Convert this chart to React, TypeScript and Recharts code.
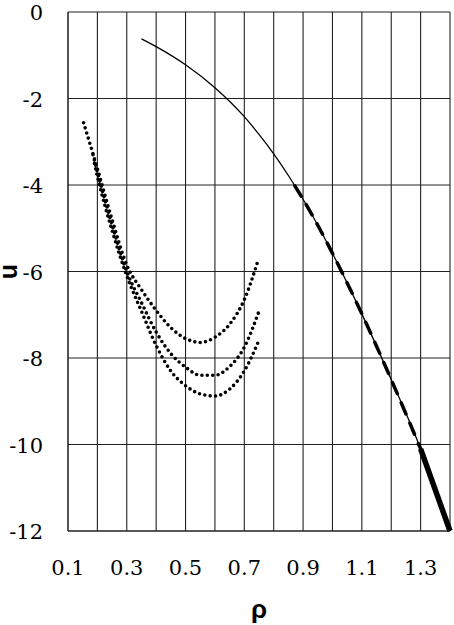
import React from 'react';
import {
  ComposedChart,
  Line,
  XAxis,
  YAxis,
  CartesianGrid,
} from 'recharts';

// ρ grid / tick positions
const rhoTicks = [0.1, 0.2, 0.3, 0.4, 0.5, 0.6, 0.7, 0.8, 0.9, 1.0, 1.1, 1.2, 1.3, 1.4];
const rhoLabels = ['0.1', '', '0.3', '', '0.5', '', '0.7', '', '0.9', '', '1.1', '', '1.3', ''];
const uTicks = [0, -2, -4, -6, -8, -10, -12];

// thin solid curve
const solidCurve = [
  { x: 0.35, u: -0.62 },
  { x: 0.4, u: -0.8 },
  { x: 0.5, u: -1.22 },
  { x: 0.6, u: -1.75 },
  { x: 0.7, u: -2.42 },
  { x: 0.75, u: -2.83 },
  { x: 0.8, u: -3.28 },
  { x: 0.85, u: -3.78 },
  { x: 0.9, u: -4.33 },
  { x: 0.95, u: -4.93 },
  { x: 1.0, u: -5.58 },
  { x: 1.1, u: -6.98 },
  { x: 1.2, u: -8.5 },
  { x: 1.3, u: -10.1 },
  { x: 1.4, u: -12.0 },
];

// thick dashed part lying on the solid curve
const dashedCurve = [
  { x: 0.872, u: -4.02 },
  { x: 0.9, u: -4.33 },
  { x: 0.95, u: -4.93 },
  { x: 1.0, u: -5.58 },
  { x: 1.1, u: -6.98 },
  { x: 1.2, u: -8.5 },
  { x: 1.3, u: -10.1 },
];

// heavy solid end segment
const heavyCurve = [
  { x: 1.3, u: -10.1 },
  { x: 1.4, u: -12.0 },
];

// three dotted curves
const dottedA = [
  { x: 0.153, u: -2.56 },
  { x: 0.2, u: -3.62 },
  { x: 0.25, u: -4.8 },
  { x: 0.3, u: -5.85 },
  { x: 0.35, u: -6.42 },
  { x: 0.4, u: -6.9 },
  { x: 0.45, u: -7.3 },
  { x: 0.5, u: -7.55 },
  { x: 0.55, u: -7.64 },
  { x: 0.6, u: -7.52 },
  { x: 0.65, u: -7.22 },
  { x: 0.7, u: -6.65 },
  { x: 0.747, u: -5.74 },
];

const dottedB = [
  { x: 0.185, u: -3.3 },
  { x: 0.2, u: -3.7 },
  { x: 0.25, u: -4.92 },
  { x: 0.3, u: -6.0 },
  { x: 0.35, u: -6.72 },
  { x: 0.4, u: -7.4 },
  { x: 0.45, u: -7.9 },
  { x: 0.5, u: -8.21 },
  { x: 0.55, u: -8.4 },
  { x: 0.6, u: -8.4 },
  { x: 0.65, u: -8.2 },
  { x: 0.7, u: -7.75 },
  { x: 0.753, u: -6.86 },
];

const dottedC = [
  { x: 0.19, u: -3.5 },
  { x: 0.2, u: -3.8 },
  { x: 0.25, u: -5.05 },
  { x: 0.3, u: -6.1 },
  { x: 0.35, u: -6.92 },
  { x: 0.4, u: -7.71 },
  { x: 0.45, u: -8.3 },
  { x: 0.5, u: -8.64 },
  { x: 0.55, u: -8.83 },
  { x: 0.6, u: -8.88 },
  { x: 0.65, u: -8.72 },
  { x: 0.7, u: -8.3 },
  { x: 0.75, u: -7.59 },
];

const dotted = {
  stroke: '#000',
  strokeWidth: 3.6,
  strokeDasharray: '0 5.4',
  strokeLinecap: 'round' as const,
};

export default function App() {
  return (
    <div style={{ position: 'absolute', left: 0, top: 0, background: '#fff' }}>
      <ComposedChart
        width={454}
        height={625}
        margin={{ top: 12, right: 4, left: 0, bottom: 0 }}
      >
        <CartesianGrid stroke="#222" strokeWidth={1.1} />
        <XAxis
          dataKey="x"
          type="number"
          domain={[0.1, 1.4]}
          ticks={rhoTicks}
          interval={0}
          allowDuplicatedCategory={false}
          height={94}
          tickSize={0}
          tickMargin={0}
          axisLine={{ stroke: '#222' }}
          tick={(p: any) => (
            <text
              key={p.index}
              x={p.x}
              y={p.y + 44}
              textAnchor="middle"
              fontFamily="DejaVu Serif"
              fontSize={21}
              fill="#000"
            >
              {rhoLabels[p.index]}
            </text>
          )}
          label={{
            content: (props: any) => {
              const vb = props.viewBox;
              return (
                <text
                  x={vb.x + vb.width / 2}
                  y={vb.y + 87}
                  textAnchor="middle"
                  fontFamily="Liberation Sans"
                  fontWeight="bold"
                  fontSize={26}
                  fill="#000"
                >
                  ρ
                </text>
              );
            },
          }}
        />
        <YAxis
          type="number"
          domain={[-12, 0]}
          ticks={uTicks}
          interval={0}
          width={68}
          tickSize={0}
          tickMargin={0}
          axisLine={{ stroke: '#222' }}
          tick={(p: any) => (
            <text
              key={p.index}
              x={43}
              y={p.y + 8}
              textAnchor="end"
              fontFamily="DejaVu Serif"
              fontSize={21}
              fill="#000"
            >
              {p.payload.value}
            </text>
          )}
          label={{
            content: (props: any) => {
              const vb = props.viewBox;
              const cy = vb.y + vb.height / 2;
              return (
                <text
                  x={17}
                  y={cy}
                  textAnchor="middle"
                  transform={`rotate(-90, 17, ${cy})`}
                  fontFamily="Liberation Sans"
                  fontWeight="bold"
                  fontSize={25}
                  fill="#000"
                >
                  u
                </text>
              );
            },
          }}
        />
        <Line
          data={solidCurve}
          dataKey="u"
          type="monotone"
          stroke="#000"
          strokeWidth={1.3}
          dot={false}
          isAnimationActive={false}
        />
        <Line
          data={dashedCurve}
          dataKey="u"
          type="monotone"
          stroke="#000"
          strokeWidth={3.5}
          strokeDasharray="12 10"
          strokeLinecap="round"
          dot={false}
          isAnimationActive={false}
        />
        <Line
          data={heavyCurve}
          dataKey="u"
          type="linear"
          stroke="#000"
          strokeWidth={5.5}
          dot={false}
          isAnimationActive={false}
        />
        <Line data={dottedA} dataKey="u" type="monotone" {...dotted} dot={false} isAnimationActive={false} />
        <Line data={dottedB} dataKey="u" type="monotone" {...dotted} dot={false} isAnimationActive={false} />
        <Line data={dottedC} dataKey="u" type="monotone" {...dotted} dot={false} isAnimationActive={false} />
      </ComposedChart>
    </div>
  );
}
